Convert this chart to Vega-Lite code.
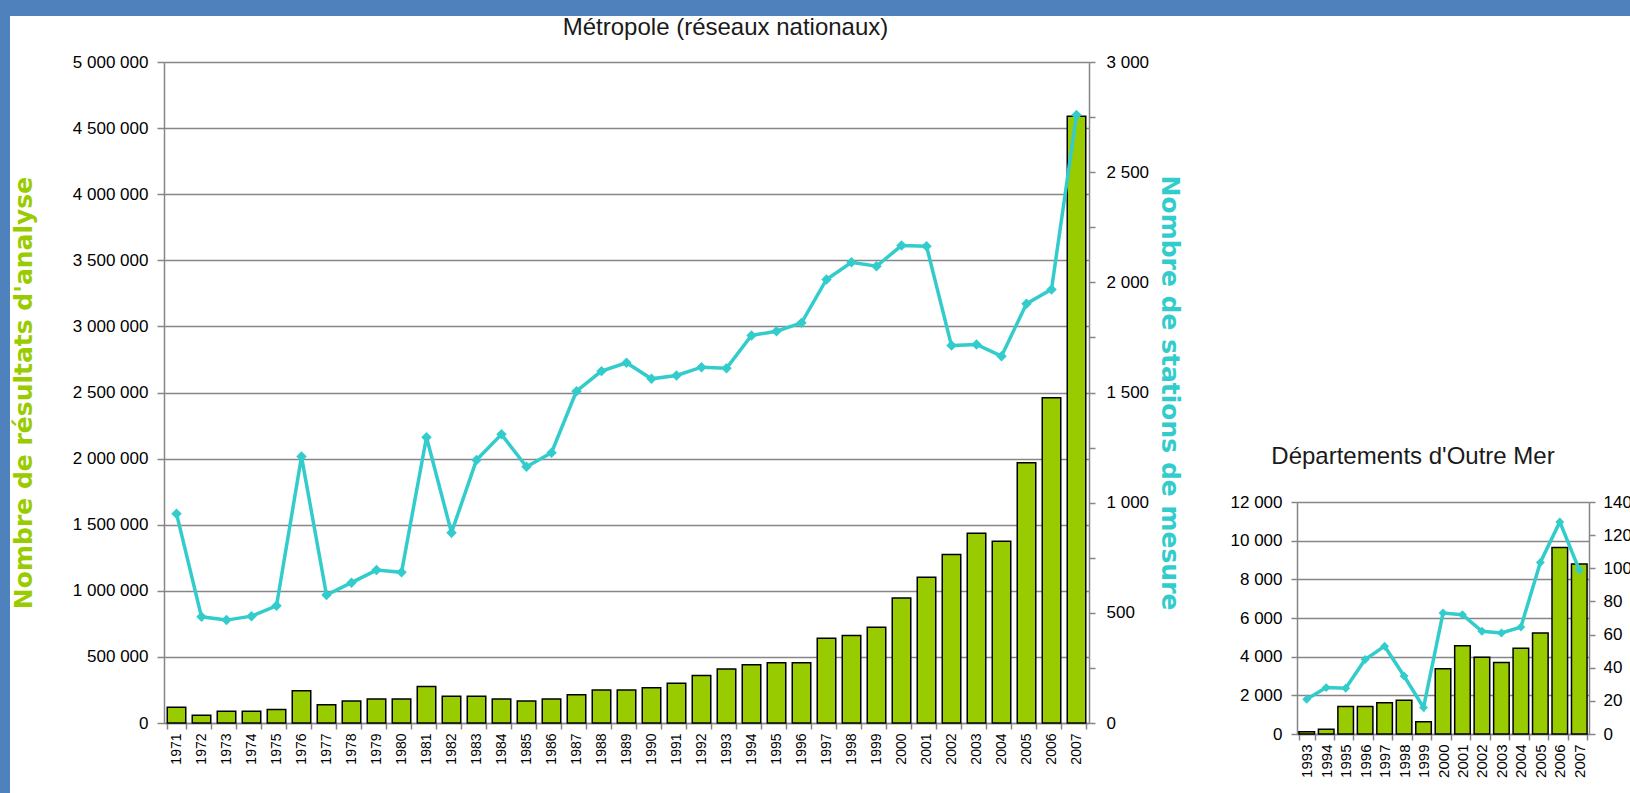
{
  "$schema": "https://vega.github.io/schema/vega-lite/v6.json",
  "padding": 0,
  "background": "white",
  "config": {
    "font": "Liberation Sans",
    "view": {"stroke": null},
    "axis": {
      "labelFont": "Liberation Sans",
      "labelColor": "#000000",
      "domainColor": "#868686",
      "domainWidth": 1.5,
      "tickColor": "#868686",
      "tickWidth": 1.5,
      "gridColor": "#868686",
      "gridWidth": 1.5,
      "gridOpacity": 1
    }
  },
  "datasets": {
    "metropole": [
      {"annee": "1971", "resultats": 120000, "stations": 950},
      {"annee": "1972", "resultats": 58000, "stations": 482},
      {"annee": "1973", "resultats": 88000, "stations": 467},
      {"annee": "1974", "resultats": 88000, "stations": 485},
      {"annee": "1975", "resultats": 103000, "stations": 532},
      {"annee": "1976", "resultats": 244000, "stations": 1209},
      {"annee": "1977", "resultats": 138000, "stations": 581},
      {"annee": "1978", "resultats": 166000, "stations": 637},
      {"annee": "1979", "resultats": 181000, "stations": 694},
      {"annee": "1980", "resultats": 181000, "stations": 684},
      {"annee": "1981", "resultats": 277000, "stations": 1297},
      {"annee": "1982", "resultats": 202000, "stations": 864},
      {"annee": "1983", "resultats": 202000, "stations": 1194},
      {"annee": "1984", "resultats": 181000, "stations": 1310},
      {"annee": "1985", "resultats": 166000, "stations": 1163},
      {"annee": "1986", "resultats": 181000, "stations": 1227},
      {"annee": "1987", "resultats": 214000, "stations": 1506},
      {"annee": "1988", "resultats": 249000, "stations": 1597},
      {"annee": "1989", "resultats": 249000, "stations": 1635},
      {"annee": "1990", "resultats": 266000, "stations": 1562},
      {"annee": "1991", "resultats": 300000, "stations": 1577},
      {"annee": "1992", "resultats": 360000, "stations": 1615},
      {"annee": "1993", "resultats": 408000, "stations": 1610},
      {"annee": "1994", "resultats": 440000, "stations": 1759},
      {"annee": "1995", "resultats": 455000, "stations": 1778},
      {"annee": "1996", "resultats": 455000, "stations": 1816},
      {"annee": "1997", "resultats": 642000, "stations": 2013},
      {"annee": "1998", "resultats": 662000, "stations": 2091},
      {"annee": "1999", "resultats": 725000, "stations": 2073},
      {"annee": "2000", "resultats": 946000, "stations": 2167},
      {"annee": "2001", "resultats": 1103000, "stations": 2164},
      {"annee": "2002", "resultats": 1274000, "stations": 1713},
      {"annee": "2003", "resultats": 1435000, "stations": 1718},
      {"annee": "2004", "resultats": 1375000, "stations": 1665},
      {"annee": "2005", "resultats": 1969000, "stations": 1903},
      {"annee": "2006", "resultats": 2460000, "stations": 1968},
      {"annee": "2007", "resultats": 4590000, "stations": 2759}
    ],
    "dom": [
      {"annee": "1993", "resultats": 110, "stations": 21},
      {"annee": "1994", "resultats": 240, "stations": 28},
      {"annee": "1995", "resultats": 1420, "stations": 27.6},
      {"annee": "1996", "resultats": 1420, "stations": 45},
      {"annee": "1997", "resultats": 1620, "stations": 53},
      {"annee": "1998", "resultats": 1750, "stations": 35},
      {"annee": "1999", "resultats": 640, "stations": 16},
      {"annee": "2000", "resultats": 3370, "stations": 73},
      {"annee": "2001", "resultats": 4560, "stations": 72},
      {"annee": "2002", "resultats": 3970, "stations": 62},
      {"annee": "2003", "resultats": 3700, "stations": 61},
      {"annee": "2004", "resultats": 4440, "stations": 64.5},
      {"annee": "2005", "resultats": 5220, "stations": 103.5},
      {"annee": "2006", "resultats": 9650, "stations": 128},
      {"annee": "2007", "resultats": 8790, "stations": 99}
    ]
  },
  "spacing": 0,
  "hconcat": [
    {
      "width": 10,
      "height": 793,
      "data": {"values": []},
      "mark": {"type": "point", "opacity": 0},
      "view": {"fill": "#4f81bd", "stroke": null}
    },
    {
      "spacing": 0,
      "vconcat": [
        {
          "width": 1620,
          "height": 16,
          "data": {"values": []},
          "mark": {"type": "point", "opacity": 0},
          "view": {"fill": "#4f81bd", "stroke": null}
        },
        {
          "spacing": 0,
          "hconcat": [
            {
              "width": 1,
              "height": 1,
              "data": {"values": []},
              "mark": {"type": "point", "opacity": 0}
            },
            {
              "spacing": 48,
              "hconcat": [
                {
                  "width": 925,
                  "height": 661,
                  "title": {
                    "text": "Métropole (réseaux nationaux)",
                    "font": "Liberation Sans",
                    "fontSize": 24,
                    "fontWeight": "normal",
                    "color": "#1a1a1a",
                    "anchor": "middle",
                    "offset": 13,
                    "dx": 99
                  },
                  "data": {"name": "metropole"},
                  "encoding": {
                    "x": {
                      "field": "annee",
                      "type": "ordinal",
                      "scale": {"paddingInner": 0.26, "paddingOuter": 0.13},
                      "axis": {
                        "title": null,
                        "labelAngle": -90,
                        "labelFontSize": 14,
                        "labelPadding": 4,
                        "tickBand": "extent",
                        "tickSize": 6
                      }
                    }
                  },
                  "layer": [
                    {
                      "mark": {"type": "bar", "color": "#99cc00", "stroke": "#000000", "strokeWidth": 1.5},
                      "encoding": {
                        "y": {
                          "field": "resultats",
                          "type": "quantitative",
                          "scale": {"domain": [0, 5000000], "nice": false},
                          "axis": {
                            "orient": "left",
                            "values": [0, 500000, 1000000, 1500000, 2000000, 2500000, 3000000, 3500000, 4000000, 4500000, 5000000],
                            "labelExpr": "replace(format(datum.value, ','), regexp(',', 'g'), ' ')",
                            "labelFontSize": 17,
                            "labelPadding": 9,
                            "tickSize": 7,
                            "grid": true,
                            "title": "Nombre de résultats d'analyse",
                            "titleFont": "DejaVu Sans",
                            "titleFontSize": 25,
                            "titleFontWeight": "bold",
                            "titleColor": "#99cc00",
                            "titlePadding": 36
                          }
                        }
                      }
                    },
                    {
                      "mark": {
                        "type": "line",
                        "color": "#33cccc",
                        "strokeWidth": 3.5,
                        "point": {"shape": "diamond", "filled": true, "size": 110, "color": "#33cccc"}
                      },
                      "encoding": {
                        "y": {
                          "field": "stations",
                          "type": "quantitative",
                          "scale": {"domain": [0, 3000], "nice": false},
                          "axis": {
                            "orient": "right",
                            "values": [0, 250, 500, 750, 1000, 1250, 1500, 1750, 2000, 2250, 2500, 2750, 3000],
                            "labelExpr": "datum.value % 500 === 0 ? replace(format(datum.value, ','), regexp(',', 'g'), ' ') : ''",
                            "labelFontSize": 17,
                            "labelPadding": 11,
                            "tickSize": 6,
                            "grid": false,
                            "title": "Nombre de stations de mesure",
                            "titleFont": "DejaVu Sans",
                            "titleFontSize": 25,
                            "titleFontWeight": "bold",
                            "titleColor": "#33cccc",
                            "titlePadding": 8
                          }
                        }
                      }
                    }
                  ],
                  "resolve": {"scale": {"y": "independent"}, "axis": {"y": "independent"}}
                },
                {
                  "spacing": 0,
                  "vconcat": [
                    {
                      "width": 292,
                      "height": 383,
                      "data": {"values": []},
                      "mark": {"type": "point", "opacity": 0}
                    },
                    {
                      "width": 292,
                      "height": 232,
                      "title": {
                        "text": "Départements d'Outre Mer",
                        "font": "Liberation Sans",
                        "fontSize": 24,
                        "fontWeight": "normal",
                        "color": "#1a1a1a",
                        "anchor": "middle",
                        "offset": 24,
                        "dx": -30
                      },
                      "data": {"name": "dom"},
                      "encoding": {
                        "x": {
                          "field": "annee",
                          "type": "ordinal",
                          "scale": {"paddingInner": 0.2, "paddingOuter": 0.1},
                          "axis": {
                            "title": null,
                            "labelAngle": -90,
                            "labelFontSize": 15,
                            "labelPadding": 4,
                            "tickBand": "extent",
                            "tickSize": 6
                          }
                        }
                      },
                      "layer": [
                        {
                          "mark": {"type": "bar", "color": "#99cc00", "stroke": "#000000", "strokeWidth": 1.5},
                          "encoding": {
                            "y": {
                              "field": "resultats",
                              "type": "quantitative",
                              "scale": {"domain": [0, 12000], "nice": false},
                              "axis": {
                                "orient": "left",
                                "values": [0, 2000, 4000, 6000, 8000, 10000, 12000],
                                "labelExpr": "replace(format(datum.value, ','), regexp(',', 'g'), ' ')",
                                "labelFontSize": 17,
                                "labelPadding": 9,
                                "tickSize": 6,
                                "grid": true,
                                "title": null
                              }
                            }
                          }
                        },
                        {
                          "mark": {
                            "type": "line",
                            "color": "#33cccc",
                            "strokeWidth": 3.5,
                            "point": {"shape": "diamond", "filled": true, "size": 80, "color": "#33cccc"}
                          },
                          "encoding": {
                            "y": {
                              "field": "stations",
                              "type": "quantitative",
                              "scale": {"domain": [0, 140], "nice": false},
                              "axis": {
                                "orient": "right",
                                "values": [0, 20, 40, 60, 80, 100, 120, 140],
                                "labelFontSize": 17,
                                "labelPadding": 8,
                                "tickSize": 6,
                                "grid": false,
                                "title": null
                              }
                            }
                          }
                        }
                      ],
                      "resolve": {"scale": {"y": "independent"}, "axis": {"y": "independent"}}
                    }
                  ]
                }
              ]
            }
          ]
        }
      ]
    }
  ]
}
